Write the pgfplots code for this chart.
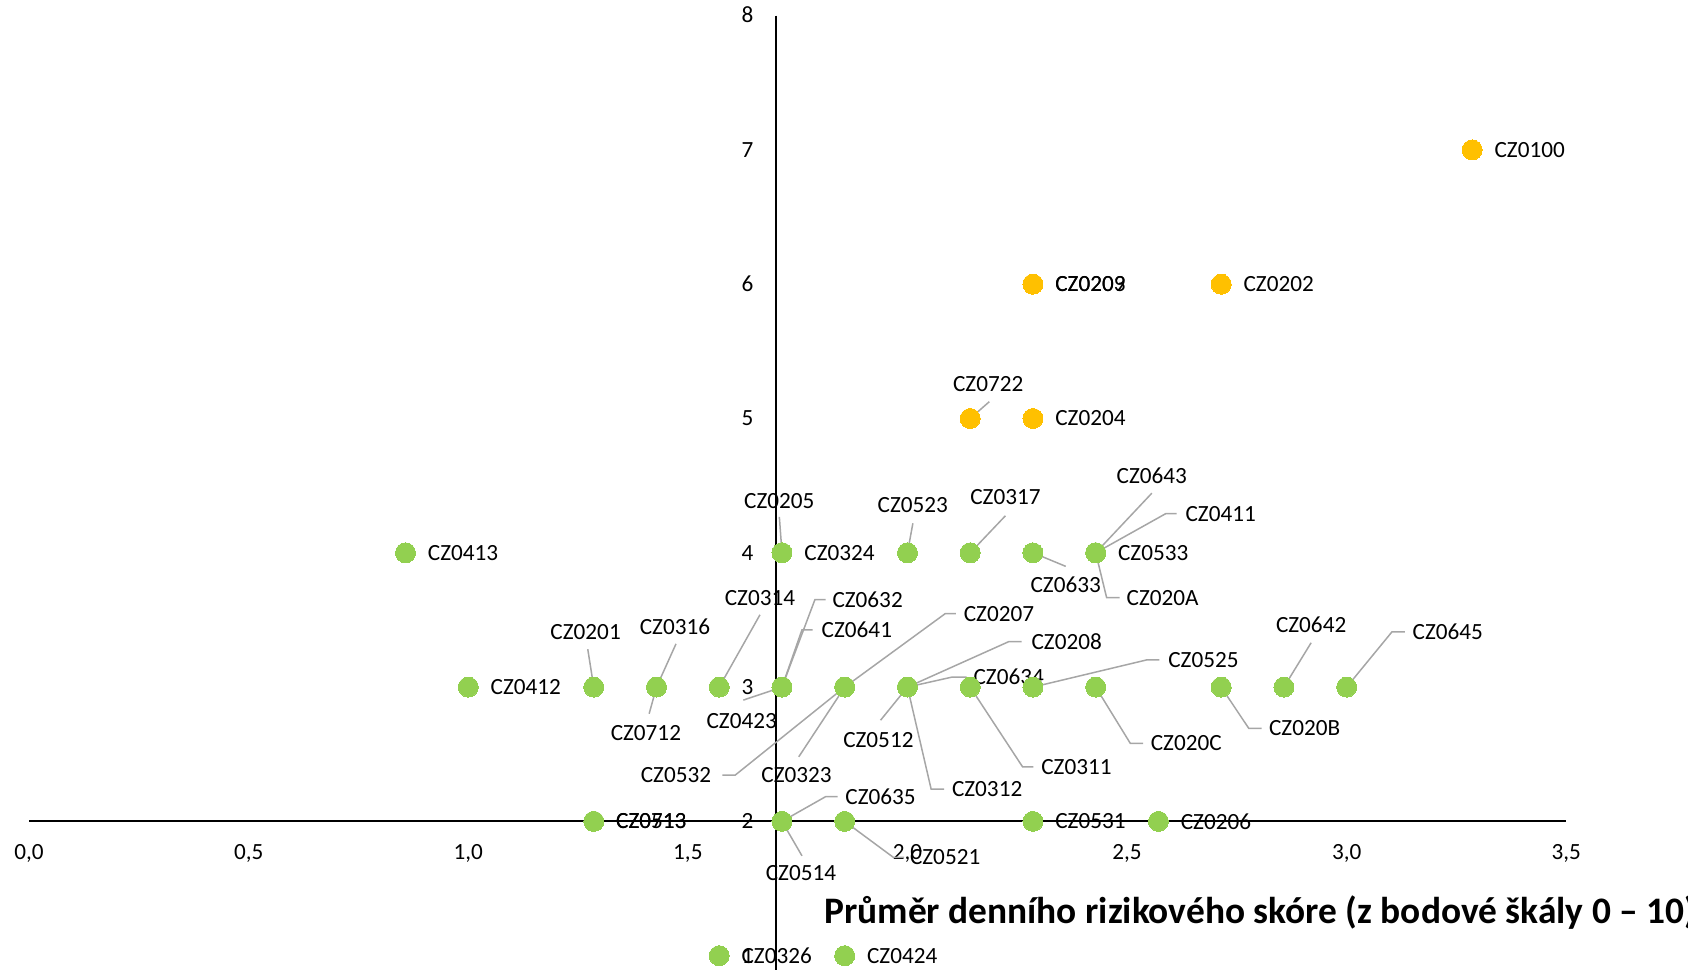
\documentclass[border=0pt]{standalone}
\usepackage{fontspec}
\setmainfont{Carlito}
\usepackage{pgfplots}
\pgfplotsset{compat=1.18}
\definecolor{czgreen}{HTML}{92D050}
\definecolor{czorange}{HTML}{FFC000}
\definecolor{leadgray}{HTML}{A6A6A6}
\tikzset{
  lbl/.style={font=\fontsize{11.6}{14}\selectfont, inner sep=0pt},
  leader/.style={draw=leadgray, line width=0.75pt},
}
% label right of its point (Excel default position)
\newcommand{\dl}[3]{\node[lbl, anchor=west, xshift=11pt] at (axis cs:#1,#2) {#3};}
% label moved by hand, given by its centre
\newcommand{\ml}[3]{\node[lbl] at (axis cs:#1,#2) {#3};}

\begin{document}
\begin{tikzpicture}
\begin{axis}[
  x=219.6pt, y=67.15pt,
  xmin=0, xmax=3.5, ymin=0.8935, ymax=8,
  hide axis, clip=false,
]
% axis lines: x axis crosses at y=2, y axis at x=1.7
\draw[black, line width=1pt] (axis cs:0,2) -- (axis cs:3.5,2);
\draw[black, line width=1pt] (axis cs:1.7,8) -- (axis cs:1.7,0.8935);

% tick labels
\foreach \v/\t in {0/{0,0},0.5/{0,5},1/{1,0},1.5/{1,5},2/{2,0},2.5/{2,5},3/{3,0},3.5/{3,5}}
  {\edef\temp{\noexpand\node[lbl, anchor=base, yshift=-19.25pt] at (axis cs:\v,2) {\t};}\temp}
\foreach \k in {1,...,8}
  {\edef\temp{\noexpand\node[lbl, anchor=base east, xshift=-11pt, yshift=-3.7pt] at (axis cs:1.7,\k) {\k};}\temp}

% orange districts
\addplot[only marks, mark=*, mark size=5pt, color=czorange, mark options={draw=czorange, fill=czorange, line width=0pt}] table {
x y
3.2857 7
2.2857 6
2.2857 6
2.7143 6
2.1429 5
2.2857 5
};
% green districts
\addplot[only marks, mark=*, mark size=5pt, color=czgreen, mark options={draw=czgreen, fill=czgreen, line width=0pt}] table {
x y
0.8571 4
1.7143 4
1.7143 4
2.0000 4
2.1429 4
2.2857 4
2.4286 4
2.4286 4
2.4286 4
2.4286 4
1.0000 3
1.2857 3
1.4286 3
1.4286 3
1.5714 3
1.7143 3
1.7143 3
1.7143 3
1.8571 3
1.8571 3
1.8571 3
2.0000 3
2.0000 3
2.0000 3
2.0000 3
2.1429 3
2.2857 3
2.4286 3
2.7143 3
2.8571 3
3.0000 3
1.2857 2
1.2857 2
1.7143 2
1.7143 2
1.8571 2
2.2857 2
2.5714 2
1.5714 1
1.8571 1
};

% leader lines
\draw[leader] (axis cs:2.1429,5) -- (axis cs:2.1863,5.125);
\draw[leader] (axis cs:1.7143,4) -- (axis cs:1.7083,4.2676);
\draw[leader] (axis cs:2,4) -- (axis cs:2.0123,4.2196);
\draw[leader] (axis cs:2.1429,4) -- (axis cs:2.2230,4.2756);
\draw[leader] (axis cs:2.2857,4) -- (axis cs:2.3603,3.899);
\draw[leader] (axis cs:2.4286,4) -- (axis cs:2.5564,4.4439);
\draw[leader] (axis cs:2.4286,4) -- (axis cs:2.5882,4.2917) -- (axis cs:2.6127,4.2917);
\draw[leader] (axis cs:2.4286,4) -- (axis cs:2.4534,3.6667) -- (axis cs:2.4828,3.6667);
\draw[leader] (axis cs:1.2857,3) -- (axis cs:1.2721,3.2821);
\draw[leader] (axis cs:1.4286,3) -- (axis cs:1.4730,3.3221);
\draw[leader] (axis cs:1.4286,3) -- (axis cs:1.4118,2.8013);
\draw[leader] (axis cs:1.5714,3) -- (axis cs:1.6642,3.5385);
\draw[leader] (axis cs:1.7143,3) -- (axis cs:1.6262,2.9030);
\draw[leader] (axis cs:1.7143,3) -- (axis cs:1.7892,3.6506) -- (axis cs:1.8137,3.6506);
\draw[leader] (axis cs:1.7143,3) -- (axis cs:1.7598,3.4263) -- (axis cs:1.7843,3.4263);
\draw[leader] (axis cs:1.8571,3) -- (axis cs:2.0858,3.5465) -- (axis cs:2.1103,3.5465);
\draw[leader] (axis cs:1.8571,3) -- (axis cs:1.6078,2.3446) -- (axis cs:1.5784,2.3446);
\draw[leader] (axis cs:1.8571,3) -- (axis cs:1.7525,2.4808);
\draw[leader] (axis cs:2,3) -- (axis cs:2.2304,3.3381) -- (axis cs:2.2598,3.3381);
\draw[leader] (axis cs:2,3) -- (axis cs:2.1005,3.0737) -- (axis cs:2.1348,3.0737);
\draw[leader] (axis cs:2,3) -- (axis cs:1.9387,2.7532);
\draw[leader] (axis cs:2,3) -- (axis cs:2.0539,2.2404) -- (axis cs:2.0833,2.2404);
\draw[leader] (axis cs:2.1429,3) -- (axis cs:2.2623,2.405) -- (axis cs:2.2868,2.405);
\draw[leader] (axis cs:2.2857,3) -- (axis cs:2.5441,3.2019) -- (axis cs:2.5735,3.2019);
\draw[leader] (axis cs:2.4286,3) -- (axis cs:2.5074,2.5809) -- (axis cs:2.5368,2.5809);
\draw[leader] (axis cs:2.7143,3) -- (axis cs:2.7770,2.6931) -- (axis cs:2.8064,2.6931);
\draw[leader] (axis cs:2.8571,3) -- (axis cs:2.9191,3.3301);
\draw[leader] (axis cs:3,3) -- (axis cs:3.1029,3.4103) -- (axis cs:3.1324,3.4103);
\draw[leader] (axis cs:1.7143,2) -- (axis cs:1.8137,2.1843) -- (axis cs:1.8407,2.1843);
\draw[leader] (axis cs:1.7143,2) -- (axis cs:1.7598,1.7436);
\draw[leader] (axis cs:1.8571,2) -- (axis cs:1.9681,1.7316) -- (axis cs:1.9926,1.7316);

% data labels in default position
\dl{3.2857}{7}{CZ0100}
\dl{2.2857}{6}{CZ0203}
\dl{2.2857}{6}{CZ0209}
\dl{2.7143}{6}{CZ0202}
\dl{2.2857}{5}{CZ0204}
\dl{0.8571}{4}{CZ0413}
\dl{1.7143}{4}{CZ0324}
\dl{2.4286}{4}{CZ0533}
\dl{1.0000}{3}{CZ0412}
\dl{1.2857}{2}{CZ0713}
\dl{1.2857}{2}{CZ0513}
\dl{2.2857}{2}{CZ0531}
\dl{2.5714}{2}{CZ0206}
\dl{1.5714}{1}{CZ0326}
\dl{1.8571}{1}{CZ0424}

% data labels moved off their points
\ml{2.1838}{5.2532}{CZ0722}
\ml{1.7083}{4.3878}{CZ0205}
\ml{2.0123}{4.3558}{CZ0523}
\ml{2.2230}{4.4119}{CZ0317}
\ml{2.3603}{3.7628}{CZ0633}
\ml{2.5564}{4.5721}{CZ0643}
\ml{2.7132}{4.2917}{CZ0411}
\ml{2.5809}{3.6667}{CZ020A}
\ml{1.2672}{3.4103}{CZ0201}
\ml{1.4706}{3.4503}{CZ0316}
\ml{1.4044}{2.6571}{CZ0712}
\ml{1.6642}{3.6667}{CZ0314}
\ml{1.6225}{2.7492}{CZ0423}
\ml{1.9093}{3.6506}{CZ0632}
\ml{1.8848}{3.4263}{CZ0641}
\ml{2.2083}{3.5465}{CZ0207}
\ml{1.4730}{2.3446}{CZ0532}
\ml{1.7475}{2.3446}{CZ0323}
\ml{2.3627}{3.3381}{CZ0208}
\ml{2.2304}{3.0737}{CZ0634}
\ml{1.9338}{2.6090}{CZ0512}
\ml{2.1814}{2.2404}{CZ0312}
\ml{2.3848}{2.405}{CZ0311}
\ml{2.6740}{3.2019}{CZ0525}
\ml{2.6348}{2.5809}{CZ020C}
\ml{2.9044}{2.6931}{CZ020B}
\ml{2.9191}{3.4663}{CZ0642}
\ml{3.2304}{3.4103}{CZ0645}
\ml{1.9387}{2.1843}{CZ0635}
\ml{1.7574}{1.6154}{CZ0514}
\ml{2.0858}{1.7316}{CZ0521}

% axis title
\node[anchor=base west, inner sep=0pt, font=\fontsize{18.7}{22}\selectfont\bfseries]
  at (axis cs:1.810,1.236) {Průměr denního rizikového skóre (z bodové škály 0 – 10)};

\coordinate (bbsw) at (axis cs:-0.0662,0.8935);
\coordinate (bbne) at (axis cs:3.7772,8.1162);
\end{axis}
\pgfresetboundingbox
\path[use as bounding box] (bbsw) rectangle (bbne);
\end{tikzpicture}
\end{document}
